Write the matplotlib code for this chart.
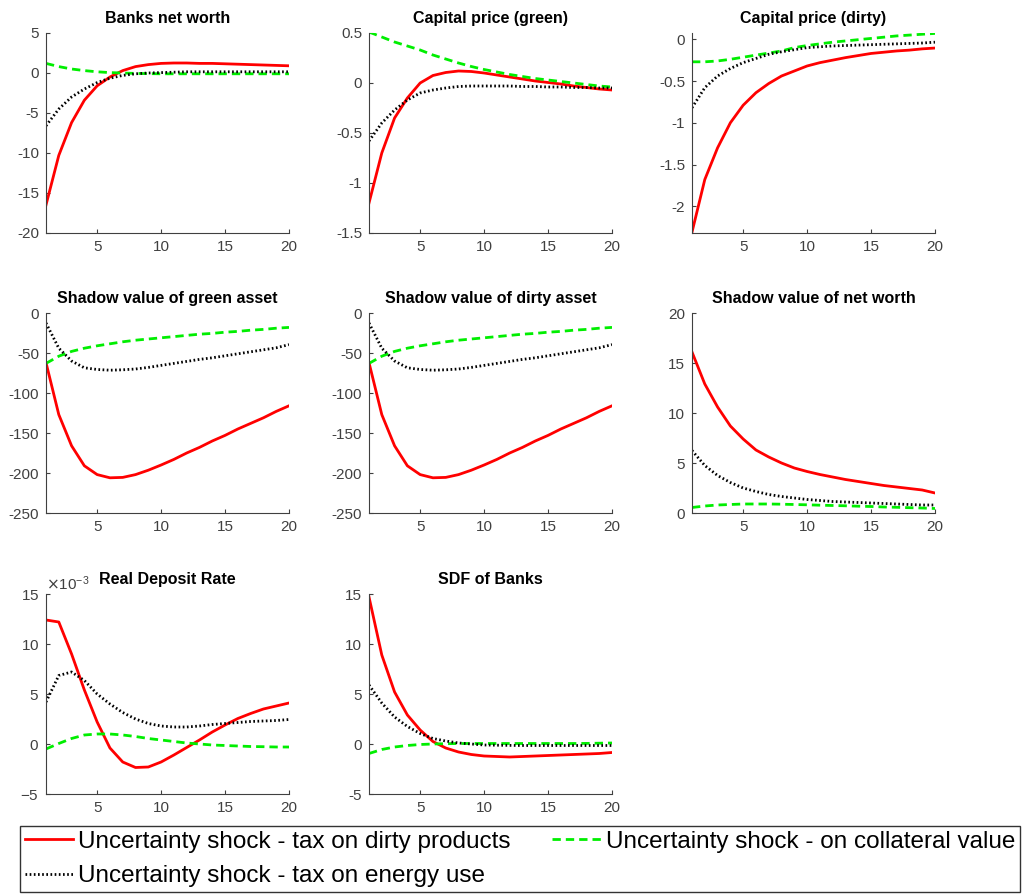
import numpy as np
import matplotlib.pyplot as plt
from matplotlib.ticker import ScalarFormatter, FuncFormatter

plt.rcParams['font.family'] = ['Liberation Sans', 'DejaVu Sans']
plt.rcParams['axes.unicode_minus'] = False

periods = np.arange(1, 21)

# impulse responses: tax on dirty products (red), collateral value (green), tax on energy use (black)
nw_tax = [-16.5, -10.3, -6.2, -3.4, -1.6, -0.5, 0.3, 0.8, 1.05, 1.2, 1.25, 1.25, 1.2, 1.2, 1.15, 1.1, 1.05, 1.0, 0.95, 0.9]
nw_coll = [1.2, 0.8, 0.5, 0.3, 0.15, 0.05, 0.0, -0.05, -0.08, -0.1, -0.1, -0.1, -0.1, -0.1, -0.1, -0.1, -0.1, -0.1, -0.1, -0.1]
nw_energy = [-6.6, -4.5, -3.0, -2.0, -1.2, -0.65, -0.3, -0.1, 0.0, 0.05, 0.1, 0.15, 0.15, 0.15, 0.15, 0.15, 0.15, 0.15, 0.15, 0.15]

qg_tax = [-1.2, -0.70, -0.35, -0.15, 0.0, 0.075, 0.105, 0.12, 0.115, 0.1, 0.08, 0.06, 0.04, 0.02, 0.005, -0.01, -0.03, -0.045, -0.06, -0.07]
qg_coll = [0.51, 0.46, 0.41, 0.37, 0.33, 0.28, 0.24, 0.2, 0.165, 0.135, 0.11, 0.085, 0.065, 0.045, 0.03, 0.015, 0.0, -0.015, -0.03, -0.04]
qg_energy = [-0.58, -0.4, -0.27, -0.17, -0.1, -0.07, -0.05, -0.035, -0.03, -0.03, -0.03, -0.03, -0.035, -0.035, -0.04, -0.04, -0.045, -0.045, -0.05, -0.05]

qd_tax = [-2.31, -1.68, -1.30, -1.0, -0.79, -0.64, -0.53, -0.44, -0.38, -0.32, -0.28, -0.25, -0.22, -0.195, -0.17, -0.155, -0.14, -0.13, -0.115, -0.105]
qd_coll = [-0.27, -0.27, -0.26, -0.24, -0.215, -0.19, -0.165, -0.14, -0.10, -0.075, -0.055, -0.035, -0.02, -0.005, 0.01, 0.025, 0.04, 0.05, 0.06, 0.07]
qd_energy = [-0.82, -0.58, -0.44, -0.35, -0.28, -0.23, -0.18, -0.15, -0.125, -0.1, -0.09, -0.08, -0.075, -0.07, -0.065, -0.06, -0.055, -0.05, -0.045, -0.035]

svg_tax = [-62, -127, -166, -191, -202, -206, -205.5, -202, -196.5, -190, -183, -175, -168, -160, -153, -145, -138, -131, -123, -116]
svg_coll = [-63, -54, -48, -44, -41, -38.5, -36, -34, -32.5, -31, -29.5, -28, -26.5, -25.5, -24, -23, -21.5, -20.5, -19, -18]
svg_energy = [-12.5, -44, -60, -68.5, -70.6, -71.5, -71, -70, -68, -65.5, -63, -60.5, -58, -56, -53.5, -51, -48.5, -46, -43.5, -39.5]

svd_tax = [-62, -127, -166, -191, -202, -206, -205.5, -202, -196.5, -190, -183, -175, -168, -160, -153, -145, -138, -131, -123, -116]
svd_coll = [-63, -54, -48, -44, -41, -38.5, -36, -34, -32.5, -31, -29.5, -28, -26.5, -25.5, -24, -23, -21.5, -20.5, -19, -18]
svd_energy = [-12.5, -44, -60, -68.5, -70.6, -71.5, -71, -70, -68, -65.5, -63, -60.5, -58, -56, -53.5, -51, -48.5, -46, -43.5, -39.5]

svn_tax = [16.1, 12.9, 10.6, 8.7, 7.4, 6.3, 5.6, 5.0, 4.5, 4.15, 3.85, 3.6, 3.35, 3.15, 2.95, 2.75, 2.6, 2.45, 2.3, 2.0]
svn_coll = [0.55, 0.7, 0.8, 0.85, 0.9, 0.9, 0.9, 0.88, 0.85, 0.82, 0.78, 0.75, 0.72, 0.68, 0.65, 0.6, 0.57, 0.53, 0.5, 0.45]
svn_energy = [6.25, 4.75, 3.75, 3.05, 2.5, 2.15, 1.85, 1.65, 1.5, 1.35, 1.25, 1.15, 1.1, 1.05, 1.0, 0.95, 0.9, 0.85, 0.8, 0.8]

# deposit rate in units of 1e-3
rd_tax = [12.4, 12.2, 9.0, 5.4, 2.2, -0.4, -1.8, -2.35, -2.3, -1.8, -1.1, -0.35, 0.4, 1.2, 1.9, 2.55, 3.05, 3.5, 3.8, 4.1]
rd_coll = [-0.5, 0.05, 0.55, 0.9, 1.0, 1.0, 0.9, 0.75, 0.55, 0.4, 0.25, 0.1, 0.0, -0.1, -0.15, -0.2, -0.25, -0.27, -0.3, -0.3]
rd_energy = [4.2, 6.85, 7.2, 6.35, 5.0, 4.0, 3.15, 2.5, 2.05, 1.8, 1.7, 1.7, 1.8, 1.95, 2.05, 2.15, 2.25, 2.3, 2.35, 2.45]

sdf_tax = [14.7, 8.9, 5.2, 2.9, 1.4, 0.25, -0.4, -0.8, -1.05, -1.2, -1.25, -1.3, -1.25, -1.2, -1.15, -1.1, -1.05, -1.0, -0.95, -0.85]
sdf_coll = [-0.95, -0.55, -0.3, -0.15, -0.05, 0.0, 0.03, 0.05, 0.05, 0.05, 0.05, 0.05, 0.05, 0.05, 0.05, 0.05, 0.05, 0.06, 0.08, 0.1]
sdf_energy = [5.9, 4.1, 2.7, 1.75, 1.05, 0.55, 0.3, 0.1, 0.0, -0.1, -0.12, -0.14, -0.15, -0.15, -0.15, -0.15, -0.15, -0.15, -0.15, -0.15]

titles = ['Banks net worth', 'Capital price (green)', 'Capital price (dirty)',
          'Shadow value of green asset', 'Shadow value of dirty asset', 'Shadow value of net worth',
          'Real Deposit Rate', 'SDF of Banks']
series = [(nw_tax, nw_coll, nw_energy), (qg_tax, qg_coll, qg_energy), (qd_tax, qd_coll, qd_energy),
          (svg_tax, svg_coll, svg_energy), (svd_tax, svd_coll, svd_energy), (svn_tax, svn_coll, svn_energy),
          (rd_tax, rd_coll, rd_energy), (sdf_tax, sdf_coll, sdf_energy)]
scales = [1, 1, 1, 1, 1, 1, 1e-3, 1]
ylims = [(-20, 5), (-1.5, 0.5), (-2.32, 0.075), (-250, 0), (-250, 0), (0, 20), (-5e-3, 15e-3), (-5, 15)]
yticks = [[-20, -15, -10, -5, 0, 5], [-1.5, -1, -0.5, 0, 0.5], [-2, -1.5, -1, -0.5, 0],
          [-250, -200, -150, -100, -50, 0], [-250, -200, -150, -100, -50, 0], [0, 5, 10, 15, 20],
          [-5e-3, 0, 5e-3, 10e-3, 15e-3], [-5, 0, 5, 10, 15]]

W, H = 1035, 896
fig = plt.figure(figsize=(W / 100, H / 100), dpi=100)
lefts = [46, 369, 692]
bottoms = [233, 513, 794]
axc = '#404040'
plain = FuncFormatter(lambda v, p: '%g' % v)

handles = None
for i, title in enumerate(titles):
    r, c = divmod(i, 3)
    ax = fig.add_axes([lefts[c] / W, 1 - bottoms[r] / H, 243 / W, 200 / H])
    tax, coll, energy = [np.array(s) * scales[i] for s in series[i]]
    l1, = ax.plot(periods, tax, color='#ff0000', lw=2)
    l2, = ax.plot(periods, coll, color='#00ee00', lw=2, ls=(0, (3, 1.8)))
    l3, = ax.plot(periods, energy, color='black', lw=2, ls=(0, (0.6, 0.9)))
    handles = (l1, l2, l3)
    ax.set_xlim(1, 20)
    ax.set_xticks([5, 10, 15, 20])
    ax.set_ylim(*ylims[i])
    ax.set_yticks(yticks[i])
    ax.xaxis.set_major_formatter(plain)
    ax.set_title(title, fontsize=11.5, fontweight='bold', pad=7)
    for s in ['top', 'right']:
        ax.spines[s].set_visible(False)
    for s in ['left', 'bottom']:
        ax.spines[s].set_color(axc)
        ax.spines[s].set_linewidth(0.8)
    ax.tick_params(direction='in', length=3, width=0.8, colors=axc, labelsize=11, labelcolor=axc, pad=5)
    if scales[i] != 1:
        fmt = ScalarFormatter(useMathText=True)
        fmt.set_powerlimits((-3, -3))
        ax.yaxis.set_major_formatter(fmt)
        ax.yaxis.get_offset_text().set_fontsize(11)
        ax.yaxis.get_offset_text().set_color(axc)
    else:
        ax.yaxis.set_major_formatter(plain)

labels = ['Uncertainty shock - tax on dirty products',
          'Uncertainty shock - on collateral value',
          'Uncertainty shock - tax on energy use']
leg = fig.legend([handles[0], handles[2], handles[1]], [labels[0], labels[2], labels[1]],
                 ncol=2, loc='upper left', bbox_to_anchor=(20 / W, 1 - 826 / H),
                 fancybox=False, edgecolor='#333333', framealpha=1,
                 prop={'family': ['Liberation Sans', 'DejaVu Sans'], 'size': 17.5},
                 handlelength=2.0, handletextpad=0.2, columnspacing=1.7, borderpad=0.2,
                 labelspacing=0.5, borderaxespad=0)
leg.get_frame().set_linewidth(1.0)

fig.savefig('out.png', dpi=100)
